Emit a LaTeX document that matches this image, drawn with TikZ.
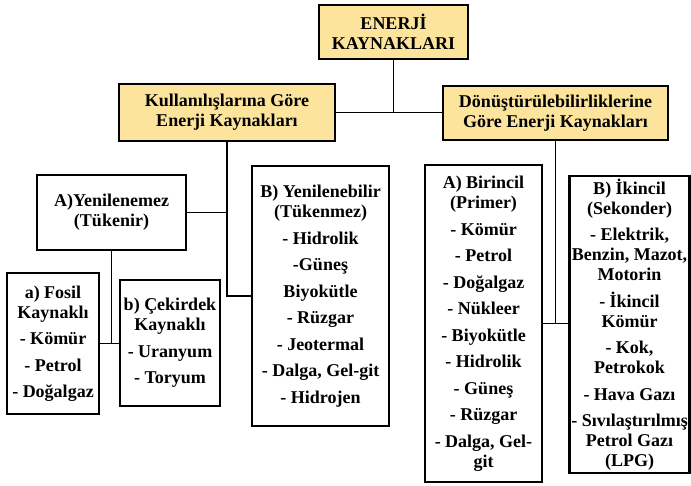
\documentclass[tikz,border=0pt]{standalone}
\usepackage{fontspec}
\setmainfont{Liberation Serif}
\definecolor{boxyellow}{RGB}{252,228,156}
\begin{document}
\begin{tikzpicture}[x=1pt,y=-1pt,
  box/.style={draw=black, line width=2.5pt, inner sep=0pt, align=center,
    font=\fontsize{18}{20}\selectfont\bfseries},
  ybox/.style={box, fill=boxyellow},
  conn/.style={draw=black, line width=1.6pt}]
\fill[white] (0,0) rectangle (691,485);
\useasboundingbox (0,0) rectangle (691,485);
\def\g{6.5pt}
\node[ybox, minimum width=149pt, minimum height=54pt] (top) at (393.5,32) {ENERJİ\\KAYNAKLARI};
\node[ybox, minimum width=216pt, minimum height=57pt] (kul) at (227,112.5) {Kullanılışlarına Göre\\Enerji Kaynakları};
\node[ybox, minimum width=225pt, minimum height=54pt] (don) at (555.5,113) {Dönüştürülebilirliklerine\\Göre Enerji Kaynakları};
\node[box, minimum width=149pt, minimum height=75pt] (yenA) at (111.5,212.5) {A)Yenilenemez\\(Tükenir)};
\node[box, minimum width=92pt, minimum height=141pt] (fosil) at (53,343.5) {a) Fosil\\Kaynaklı\\[\g]- Kömür\\[\g]- Petrol\\[\g]- Doğalgaz};
\node[box, minimum width=100pt, minimum height=126pt] (cek) at (170,343) {b) Çekirdek\\Kaynaklı\\[\g]- Uranyum\\[\g]- Toryum};
\node[box, minimum width=137pt, minimum height=260pt] (yenB) at (320.5,296) {B) Yenilenebilir\\(Tükenmez)\\[\g]- Hidrolik\\[\g]-Güneş\\[\g]Biyokütle\\[\g]- Rüzgar\\[\g]- Jeotermal\\[\g]- Dalga, Gel-git\\[\g]- Hidrojen};
\node[box, minimum width=117pt, minimum height=317pt] (bir) at (483.5,323.5) {A) Birincil\\(Primer)\\[\g]- Kömür\\[\g]- Petrol\\[\g]- Doğalgaz\\[\g]- Nükleer\\[\g]- Biyokütle\\[\g]- Hidrolik\\[\g]- Güneş\\[\g]- Rüzgar\\[\g]- Dalga, Gel-\\git};
\node[box, minimum width=120pt, minimum height=297pt] (ikin) at (629.5,324.5) {B) İkincil\\(Sekonder)\\[\g]- Elektrik,\\Benzin, Mazot,\\Motorin\\[\g]- İkincil\\Kömür\\[\g]- Kok,\\Petrokok\\[\g]- Hava Gazı\\[\g]- Sıvılaştırılmış\\Petrol Gazı\\(LPG)};
% connectors
\draw[conn] (kul.east) -- (don.west |- kul.east);
\draw[conn] (top.south) -- (top.south |- kul.east);
\draw[conn] (kul.south) |- (yenB.west);
\draw[conn] (yenA.east) -- (kul.south |- yenA.east);
\draw[conn] (fosil.east) -- (cek.west |- fosil.east);
\draw[conn] (yenA.south) -- (yenA.south |- fosil.east);
\draw[conn] (bir.east) -- (ikin.west |- bir.east);
\draw[conn] (don.south) -- (don.south |- bir.east);
\end{tikzpicture}
\end{document}
